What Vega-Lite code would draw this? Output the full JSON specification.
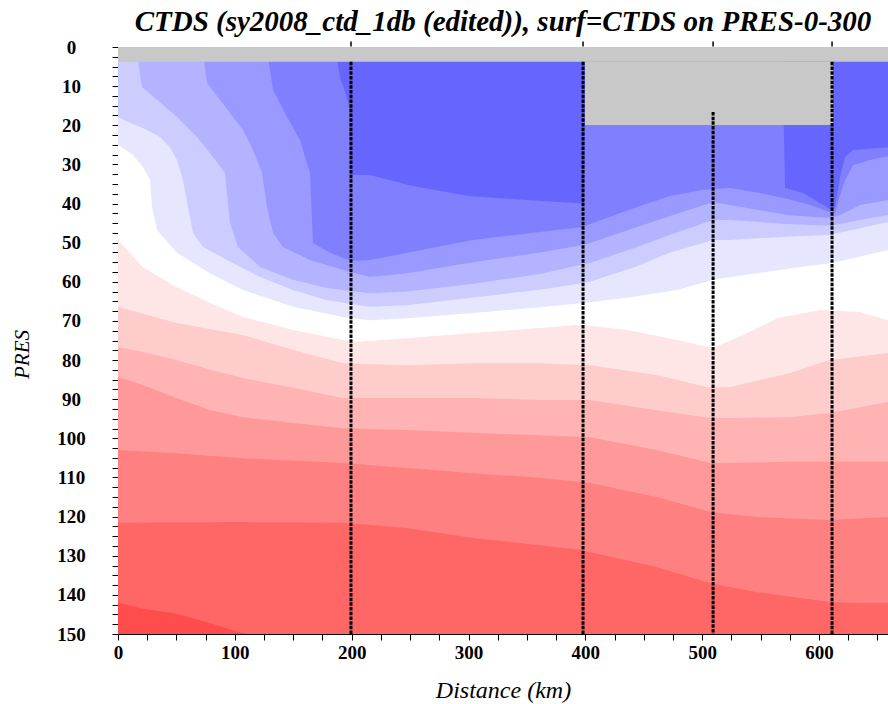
{
  "$schema": "https://vega.github.io/schema/vega-lite/v6.json",
  "width": 770,
  "height": 587,
  "autosize": "none",
  "padding": {"left": 118, "top": 47, "right": 0, "bottom": 70},
  "background": "white",
  "config": {"font": "Liberation Serif", "view": {"stroke": null}, "axis": {"labelOverlap": false, "grid": false}},
  "title": {"text": "CTDS (sy2008_ctd_1db (edited)), surf=CTDS on PRES-0-300", "font": "Liberation Serif", "fontSize": 29, "fontWeight": "bold", "fontStyle": "italic", "color": "black", "offset": 1, "anchor": "middle"},
  "datasets": {
    "contours": [
      {"lev":0,"km":0,"pres":0},{"lev":0,"km":659,"pres":0},
      {"lev":1,"km":0,"pres":0},{"lev":1,"km":185.7,"pres":0},{"lev":1,"km":190,"pres":7.7},{"lev":1,"km":194.3,"pres":11.5},{"lev":1,"km":197.7,"pres":15.3},{"lev":1,"km":198.6,"pres":32.7},{"lev":1,"km":215.7,"pres":32.7},{"lev":1,"km":249.9,"pres":35.4},{"lev":1,"km":299.6,"pres":38.1},{"lev":1,"km":350.1,"pres":39.1},{"lev":1,"km":398.9,"pres":40},{"lev":1,"km":400.6,"pres":0},{"lev":1,"km":568.3,"pres":0},{"lev":1,"km":570.9,"pres":36},{"lev":1,"km":586.3,"pres":37.3},{"lev":1,"km":600.9,"pres":39.9},{"lev":1,"km":611.1,"pres":41.7},{"lev":1,"km":613.7,"pres":40.9},{"lev":1,"km":618,"pres":33.2},{"lev":1,"km":622.3,"pres":28.1},{"lev":1,"km":629.1,"pres":26.3},{"lev":1,"km":659,"pres":25.6},
      {"lev":2,"km":0,"pres":0},{"lev":2,"km":127,"pres":0},{"lev":2,"km":132.7,"pres":11},{"lev":2,"km":144.7,"pres":17.9},{"lev":2,"km":155.8,"pres":23.8},{"lev":2,"km":164.3,"pres":32.2},{"lev":2,"km":166.9,"pres":50.1},{"lev":2,"km":181.5,"pres":52.6},{"lev":2,"km":192.6,"pres":53.9},{"lev":2,"km":200.3,"pres":54.7},{"lev":2,"km":215.7,"pres":54.4},{"lev":2,"km":247.4,"pres":52.6},{"lev":2,"km":303.9,"pres":49.3},{"lev":2,"km":361.2,"pres":47.3},{"lev":2,"km":398,"pres":46},{"lev":2,"km":404,"pres":45.2},{"lev":2,"km":444.2,"pres":40.9},{"lev":2,"km":472.5,"pres":38.1},{"lev":2,"km":500.7,"pres":36.5},{"lev":2,"km":523.8,"pres":36},{"lev":2,"km":549.5,"pres":37.3},{"lev":2,"km":572.6,"pres":38.8},{"lev":2,"km":592.3,"pres":40.4},{"lev":2,"km":609.4,"pres":42.2},{"lev":2,"km":613.7,"pres":42.4},{"lev":2,"km":618,"pres":37.8},{"lev":2,"km":622.3,"pres":34},{"lev":2,"km":629.1,"pres":30.2},{"lev":2,"km":643.7,"pres":28.9},{"lev":2,"km":659,"pres":27.9},
      {"lev":3,"km":0,"pres":0},{"lev":3,"km":72,"pres":0},{"lev":3,"km":76.2,"pres":9.2},{"lev":3,"km":87.3,"pres":13.5},{"lev":3,"km":98.4,"pres":17.9},{"lev":3,"km":107,"pres":21.2},{"lev":3,"km":115.6,"pres":26.3},{"lev":3,"km":123.3,"pres":32.2},{"lev":3,"km":127.5,"pres":40.9},{"lev":3,"km":132.7,"pres":47.5},{"lev":3,"km":141.2,"pres":51.1},{"lev":3,"km":164.3,"pres":54.4},{"lev":3,"km":192.6,"pres":57},{"lev":3,"km":215.7,"pres":58.8},{"lev":3,"km":247.4,"pres":57.8},{"lev":3,"km":303.9,"pres":55},{"lev":3,"km":361.2,"pres":52.5},{"lev":3,"km":398,"pres":50.6},{"lev":3,"km":404,"pres":50.1},{"lev":3,"km":444.2,"pres":46},{"lev":3,"km":472.5,"pres":43.2},{"lev":3,"km":509.3,"pres":39.6},{"lev":3,"km":523.8,"pres":40.4},{"lev":3,"km":549.5,"pres":41.7},{"lev":3,"km":572.6,"pres":42.9},{"lev":3,"km":609.4,"pres":43.7},{"lev":3,"km":618,"pres":42.9},{"lev":3,"km":635.1,"pres":40.4},{"lev":3,"km":659,"pres":39.1},
      {"lev":4,"km":0,"pres":0},{"lev":4,"km":15.5,"pres":0},{"lev":4,"km":20.5,"pres":10.2},{"lev":4,"km":33.4,"pres":13.5},{"lev":4,"km":50.5,"pres":17.9},{"lev":4,"km":67.6,"pres":23},{"lev":4,"km":78.7,"pres":27.1},{"lev":4,"km":91.6,"pres":32.2},{"lev":4,"km":95.9,"pres":45},{"lev":4,"km":102.7,"pres":51.1},{"lev":4,"km":121.5,"pres":56.2},{"lev":4,"km":149.8,"pres":59.5},{"lev":4,"km":178.9,"pres":61.6},{"lev":4,"km":215.7,"pres":62.9},{"lev":4,"km":247.4,"pres":62.5},{"lev":4,"km":303.9,"pres":60.5},{"lev":4,"km":361.2,"pres":58},{"lev":4,"km":398,"pres":55.5},{"lev":4,"km":404,"pres":55.2},{"lev":4,"km":444.2,"pres":51.1},{"lev":4,"km":472.5,"pres":48},{"lev":4,"km":509.3,"pres":44.2},{"lev":4,"km":523.8,"pres":44.2},{"lev":4,"km":572.6,"pres":45.2},{"lev":4,"km":609.4,"pres":45.7},{"lev":4,"km":635.1,"pres":44.2},{"lev":4,"km":659,"pres":42.9},
      {"lev":5,"km":0,"pres":17.9},{"lev":5,"km":10.3,"pres":19.4},{"lev":5,"km":21.4,"pres":20.7},{"lev":5,"km":35.9,"pres":23},{"lev":5,"km":44.5,"pres":25.6},{"lev":5,"km":50.5,"pres":28.9},{"lev":5,"km":55.6,"pres":34},{"lev":5,"km":59.9,"pres":40.9},{"lev":5,"km":64.2,"pres":47.5},{"lev":5,"km":72.8,"pres":51.1},{"lev":5,"km":93.3,"pres":54.4},{"lev":5,"km":121.5,"pres":58.8},{"lev":5,"km":149.8,"pres":62.1},{"lev":5,"km":178.9,"pres":64.7},{"lev":5,"km":215.7,"pres":66.4},{"lev":5,"km":247.4,"pres":66},{"lev":5,"km":303.9,"pres":64},{"lev":5,"km":361.2,"pres":62},{"lev":5,"km":398,"pres":60.3},{"lev":5,"km":404,"pres":60},{"lev":5,"km":444.2,"pres":56},{"lev":5,"km":472.5,"pres":52.5},{"lev":5,"km":509.3,"pres":49.3},{"lev":5,"km":523.8,"pres":49.3},{"lev":5,"km":549.5,"pres":48.8},{"lev":5,"km":572.6,"pres":48.5},{"lev":5,"km":609.4,"pres":48},{"lev":5,"km":635.1,"pres":46.3},{"lev":5,"km":659,"pres":44.7},
      {"lev":6,"km":0,"pres":25},{"lev":6,"km":12.8,"pres":27.6},{"lev":6,"km":21.4,"pres":30.7},{"lev":6,"km":27.4,"pres":34},{"lev":6,"km":29.1,"pres":40.9},{"lev":6,"km":33.4,"pres":46.8},{"lev":6,"km":50.5,"pres":52.6},{"lev":6,"km":78.7,"pres":57.8},{"lev":6,"km":107,"pres":62.1},{"lev":6,"km":149.8,"pres":66.4},{"lev":6,"km":192.6,"pres":69},{"lev":6,"km":215.7,"pres":69.8},{"lev":6,"km":247.4,"pres":69.3},{"lev":6,"km":303.9,"pres":68},{"lev":6,"km":361.2,"pres":66.5},{"lev":6,"km":398,"pres":65.4},{"lev":6,"km":435.7,"pres":64.1},{"lev":6,"km":478.5,"pres":62.1},{"lev":6,"km":509.3,"pres":59.5},{"lev":6,"km":535,"pres":58.3},{"lev":6,"km":577.8,"pres":56.5},{"lev":6,"km":611.1,"pres":55.2},{"lev":6,"km":659,"pres":51.9},
      {"lev":7,"km":0,"pres":49.3},{"lev":7,"km":21,"pres":56.2},{"lev":7,"km":50,"pres":61.3},{"lev":7,"km":79,"pres":65.4},{"lev":7,"km":107,"pres":69},{"lev":7,"km":150,"pres":72.3},{"lev":7,"km":192.6,"pres":74.9},{"lev":7,"km":202,"pres":75.4},{"lev":7,"km":247,"pres":74.4},{"lev":7,"km":304,"pres":73.1},{"lev":7,"km":361,"pres":71.8},{"lev":7,"km":395,"pres":71},{"lev":7,"km":436,"pres":72.3},{"lev":7,"km":478.5,"pres":74.9},{"lev":7,"km":509,"pres":76.9},{"lev":7,"km":535,"pres":73.6},{"lev":7,"km":564,"pres":69.3},{"lev":7,"km":601,"pres":67.2},{"lev":7,"km":635,"pres":67.7},{"lev":7,"km":659,"pres":69.8},
      {"lev":8,"km":0,"pres":66.4},{"lev":8,"km":50,"pres":70.5},{"lev":8,"km":107,"pres":73.6},{"lev":8,"km":150,"pres":77.4},{"lev":8,"km":192.6,"pres":80.8},{"lev":8,"km":247,"pres":81.3},{"lev":8,"km":304,"pres":80.8},{"lev":8,"km":361,"pres":80.8},{"lev":8,"km":404,"pres":81.3},{"lev":8,"km":461,"pres":83.8},{"lev":8,"km":507,"pres":87.1},{"lev":8,"km":524,"pres":86.9},{"lev":8,"km":575,"pres":83.3},{"lev":8,"km":609,"pres":80},{"lev":8,"km":659,"pres":78.2},
      {"lev":9,"km":0,"pres":76.7},{"lev":9,"km":21,"pres":77.9},{"lev":9,"km":50,"pres":80},{"lev":9,"km":79,"pres":82.5},{"lev":9,"km":107,"pres":84.6},{"lev":9,"km":150,"pres":87.1},{"lev":9,"km":192.6,"pres":89.7},{"lev":9,"km":247,"pres":89.7},{"lev":9,"km":304,"pres":89.7},{"lev":9,"km":361,"pres":90.2},{"lev":9,"km":404,"pres":90.2},{"lev":9,"km":461,"pres":92.8},{"lev":9,"km":507,"pres":94.8},{"lev":9,"km":524,"pres":94.8},{"lev":9,"km":575,"pres":94.6},{"lev":9,"km":609,"pres":93.5},{"lev":9,"km":659,"pres":90.7},
      {"lev":10,"km":0,"pres":84.3},{"lev":10,"km":21,"pres":86.4},{"lev":10,"km":50,"pres":89.7},{"lev":10,"km":79,"pres":92.8},{"lev":10,"km":107,"pres":94.6},{"lev":10,"km":150,"pres":96.1},{"lev":10,"km":192.6,"pres":97.4},{"lev":10,"km":247,"pres":97.9},{"lev":10,"km":304,"pres":98.6},{"lev":10,"km":361,"pres":99.2},{"lev":10,"km":404,"pres":99.7},{"lev":10,"km":461,"pres":103},{"lev":10,"km":507,"pres":106.3},{"lev":10,"km":524,"pres":106.3},{"lev":10,"km":575,"pres":106},{"lev":10,"km":659,"pres":106},
      {"lev":11,"km":0,"pres":103},{"lev":11,"km":50,"pres":103.8},{"lev":11,"km":107,"pres":105.1},{"lev":11,"km":192.6,"pres":106.3},{"lev":11,"km":247,"pres":107.6},{"lev":11,"km":304,"pres":108.9},{"lev":11,"km":361,"pres":110.1},{"lev":11,"km":404,"pres":111.4},{"lev":11,"km":461,"pres":115},{"lev":11,"km":507,"pres":118.8},{"lev":11,"km":547,"pres":120.1},{"lev":11,"km":609,"pres":120.9},{"lev":11,"km":659,"pres":120.1},
      {"lev":12,"km":0,"pres":121.6},{"lev":12,"km":107,"pres":121.4},{"lev":12,"km":192.6,"pres":121.6},{"lev":12,"km":247,"pres":122.9},{"lev":12,"km":304,"pres":125.5},{"lev":12,"km":361,"pres":127.3},{"lev":12,"km":395.5,"pres":128.5},{"lev":12,"km":404,"pres":129.1},{"lev":12,"km":461,"pres":132.9},{"lev":12,"km":507,"pres":137},{"lev":12,"km":547,"pres":139.3},{"lev":12,"km":609,"pres":141.8},{"lev":12,"km":632.5,"pres":142.1},{"lev":12,"km":659,"pres":142.1},
      {"lev":13,"km":0,"pres":142},{"lev":13,"km":20,"pres":143.5},{"lev":13,"km":50,"pres":144.8},{"lev":13,"km":80,"pres":147.3},{"lev":13,"km":103,"pres":149.5},{"lev":13,"km":110,"pres":150}
    ],
    "gray": [
      {"km": 0, "km2": 659, "pres": 0, "pres2": 3.8},
      {"km": 399.7, "km2": 612, "pres": 3.8, "pres2": 19.9}
    ],
    "stations": [
      {"km": 199.4, "pres": 3.8},
      {"km": 398, "pres": 3.8},
      {"km": 509.3, "pres": 16.6},
      {"km": 611.1, "pres": 3.8}
    ],
    "stationTicks": [
      {"km": 199.4, "pres": -1.4, "pres2": -0.1},
      {"km": 398, "pres": -1.4, "pres2": -0.1},
      {"km": 509.3, "pres": -1.4, "pres2": -0.1},
      {"km": 611.1, "pres": -1.4, "pres2": -0.1}
    ]
  },
  "encoding": {
    "x": {"field": "km", "type": "quantitative", "scale": {"domain": [0, 659], "nice": false, "zero": false},
      "axis": {"title": "Distance (km)", "titleFont": "Liberation Serif", "titleFontStyle": "italic", "titleFontWeight": "normal", "titleFontSize": 24, "titleColor": "black", "titleX": 385, "titleY": 56, "titleBaseline": "middle",
        "values": [0,25,50,75,100,125,150,175,200,225,250,275,300,325,350,375,400,425,450,475,500,525,550,575,600,625,650],
        "labelExpr": "datum.value % 100 == 0 ? datum.label : ''", "labelOverlap": false, "labelFlush": false,
        "labelFont": "Liberation Serif", "labelFontWeight": "bold", "labelFontSize": 19, "labelColor": "black", "labelPadding": 3,
        "tickSize": 6, "tickColor": "black", "domainColor": "black", "grid": false}},
    "y": {"field": "pres", "type": "quantitative", "stack": null, "scale": {"domain": [0, 150], "reverse": true, "nice": false, "zero": false},
      "axis": {"title": "PRES", "titleFont": "Liberation Serif", "titleFontStyle": "italic", "titleFontWeight": "normal", "titleFontSize": 21, "titleColor": "black", "titleAngle": -90, "titleX": -96, "titleY": 307, "titleBaseline": "middle", "titleAlign": "center",
        "values": [0,2.5,5,7.5,10,12.5,15,17.5,20,22.5,25,27.5,30,32.5,35,37.5,40,42.5,45,47.5,50,52.5,55,57.5,60,62.5,65,67.5,70,72.5,75,77.5,80,82.5,85,87.5,90,92.5,95,97.5,100,102.5,105,107.5,110,112.5,115,117.5,120,122.5,125,127.5,130,132.5,135,137.5,140,142.5,145,147.5,150],
        "labelExpr": "datum.value % 10 == 0 ? datum.label : ''", "labelOverlap": false, "labelFlush": false,
        "labelFont": "Liberation Serif", "labelFontWeight": "bold", "labelFontSize": 19, "labelColor": "black", "labelAlign": "center", "labelPadding": 41,
        "tickSize": 6, "tickColor": "black", "domainColor": "black", "grid": false}}
  },
  "layer": [
    {
      "data": {"name": "contours"},
      "mark": {"type": "area", "clip": true},
      "encoding": {
        "y2": {"datum": 150},
        "color": {"field": "lev", "type": "ordinal", "legend": null,
          "scale": {"domain": [0,1,2,3,4,5,6,7,8,9,10,11,12,13],
            "range": ["#6666ff","#8080ff","#9999ff","#b3b3ff","#ccccff","#e6e6ff","#ffffff","#ffe6e6","#ffcccc","#ffb3b3","#ff9999","#ff8080","#ff6666","#ff4d4d"]}}
      }
    },
    {
      "data": {"name": "gray"},
      "mark": {"type": "rect", "color": "#c8c8c8"},
      "encoding": {
        "x2": {"field": "km2"},
        "y2": {"field": "pres2"}
      }
    },
    {
      "data": {"name": "stations"},
      "mark": {"type": "rule", "color": "black", "strokeWidth": 3, "strokeDash": [3.5, 1.2]},
      "encoding": {
        "y2": {"datum": 150}
      }
    },
    {
      "data": {"name": "stationTicks"},
      "mark": {"type": "rule", "color": "black", "strokeWidth": 1.5},
      "encoding": {
        "y2": {"field": "pres2"}
      }
    }
  ]
}
